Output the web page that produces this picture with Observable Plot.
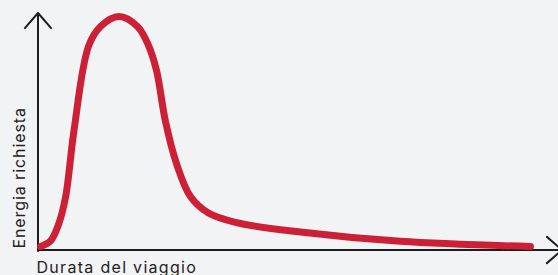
<!DOCTYPE html>
<html>
<head>
<meta charset="utf-8">
<script src="https://cdn.jsdelivr.net/npm/d3@7"></script>
<script src="https://cdn.jsdelivr.net/npm/@observablehq/plot@0.6"></script>
<style>
  html, body { margin: 0; padding: 0; background: #f2f3f5; }
  #chart svg { display: block; }
  g[aria-label="text"] text { letter-spacing: 0.9px; }
  g[aria-label="text"] text.xlab { letter-spacing: 1.3px; }
</style>
</head>
<body>
<div id="chart"></div>
<script>
// Travel duration (x, arbitrary units) and required energy (y, % of peak)
const durata = [0.5, 2.5, 4.1, 5.5, 7.2, 10.1, 12.5, 16.2, 19.9, 22.1, 23.7, 25.5, 27.7, 30.5, 34.1, 39.5, 52.5, 72.5, 98.5];
const energia = [1.5, 3.9, 10.9, 22.5, 51.2, 87.2, 95.7, 100, 95.7, 87.6, 76.9, 55.0, 37.0, 22.9, 15.8, 11.8, 7.7, 3.7, 1.5];

// Axis arrows (ends in data units, slightly past the plotted range)
const assi = [
  {x1: 0, y1: -0.4, x2: 0, y2: 101.5},
  {x1: 0, y1: 0, x2: 104.8, y2: 0}
];
const etichettaX = "Durata del viaggio";
const etichettaY = "Energia richiesta";

const data = durata.map((d, i) => ({x: d, y: energia[i]}));

const chart = Plot.plot({
  width: 558,
  height: 275,
  marginLeft: 37.5,
  marginRight: 20.5,
  marginTop: 16,
  marginBottom: 25.5,
  style: {background: "#f2f3f5", overflow: "hidden"},
  x: {domain: [0, 100], axis: null},
  y: {domain: [0, 100], axis: null},
  marks: [
    Plot.arrow(assi, {
      x1: "x1", y1: "y1", x2: "x2", y2: "y2",
      stroke: "#1e1e1e", strokeWidth: 2,
      headLength: 15, headAngle: 82
    }),
    Plot.line(data, {
      x: "x", y: "y",
      stroke: "#cc2037", strokeWidth: 7,
      strokeLinecap: "round", strokeLinejoin: "round",
      curve: "catmull-rom"
    }),
    Plot.text([etichettaX], {
      text: d => d,
      frameAnchor: "bottom-left",
      textAnchor: "start", lineAnchor: "bottom",
      dx: -1.5, dy: 23,
      fontFamily: "Inter", fontSize: 16, fill: "#222"
    }),
    Plot.text([etichettaY], {
      text: d => d,
      frameAnchor: "bottom-left",
      textAnchor: "start", lineAnchor: "bottom",
      rotate: -90,
      dx: -13, dy: -1.5,
      fontFamily: "Inter", fontSize: 16, fill: "#222"
    })
  ]
});
// tag the x label for its own letter spacing
d3.select(chart).selectAll('g[aria-label="text"] text')
  .filter(function () { return this.textContent === etichettaX; })
  .classed("xlab", true);
document.getElementById("chart").appendChild(chart);
</script>
</body>
</html>
